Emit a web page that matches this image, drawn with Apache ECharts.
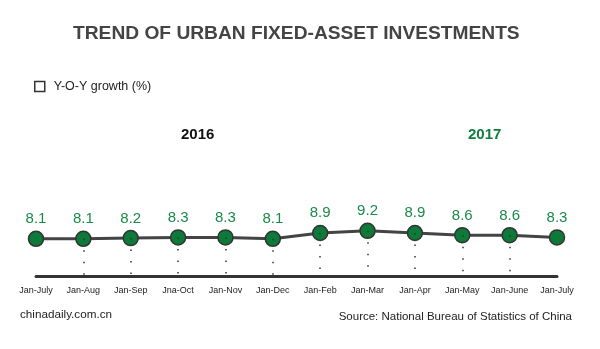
<!DOCTYPE html>
<html><head><meta charset="utf-8">
<script src="https://cdn.jsdelivr.net/npm/echarts@6/dist/echarts.min.js"></script>
<style>html,body{margin:0;padding:0;background:#fff}#c{width:600px;height:349px}</style>
</head><body><div id="c"></div>
<script>
var categories = ['Jan-July','Jan-Aug','Jan-Sep','Jna-Oct','Jan-Nov','Jan-Dec','Jan-Feb','Jan-Mar','Jan-Apr','Jan-May','Jan-June','Jan-July'];
var growth = [8.1, 8.1, 8.2, 8.3, 8.3, 8.1, 8.9, 9.2, 8.9, 8.6, 8.6, 8.3];
var dropIdx = [1,2,3,4,5,6,7,8,9,10];
var yMin = 3, yMax = 10;

var chart = echarts.init(document.getElementById('c'));
var ff = 'Liberation Sans, Arial, sans-serif';
var drops = dropIdx.map(function(i){
  return [{coord:[i, growth[i]]},{coord:[i, yMin]}];
});
chart.setOption({
  animation:false,
  textStyle:{fontFamily:ff},
  title:[
    {text:'TREND OF URBAN FIXED-ASSET INVESTMENTS', left:68, top:19,
     textStyle:{fontSize:19.2, fontWeight:'bold', color:'#444', fontFamily:ff}},
    {text:'2016', left:176, top:122, textStyle:{fontSize:15, fontWeight:'bold', color:'#111', fontFamily:ff}},
    {text:'2017', left:463, top:122, textStyle:{fontSize:15, fontWeight:'bold', color:'#0e7d3e', fontFamily:ff}},
    {text:'chinadaily.com.cn', left:15, top:304, textStyle:{fontSize:11.7, fontWeight:'normal', color:'#222', fontFamily:ff}},
    {text:'Source: National Bureau of Statistics of China', right:23, top:306, textStyle:{fontSize:11.5, fontWeight:'normal', color:'#222', fontFamily:ff}}
  ],
  legend:{left:29, top:75, icon:'rect', itemWidth:10, itemHeight:10, itemGap:8,
    itemStyle:{color:'#fff', borderColor:'#333', borderWidth:1.5},
    textStyle:{fontSize:12.5, color:'#222', fontFamily:ff, padding:[0,0,0,4]},
    data:['Y-O-Y growth (%)']},
  grid:{left:36, right:43, top:225, bottom:73},
  xAxis:{type:'category', data:categories, boundaryGap:false,
    axisLine:{lineStyle:{color:'#333', width:3}},
    axisTick:{show:false},
    axisLabel:{fontSize:9, color:'#222', margin:10, interval:0}},
  yAxis:{type:'value', min:yMin, max:yMax, show:false, splitLine:{show:false}},
  series:[{
    name:'Y-O-Y growth (%)', type:'line', data:growth,
    symbol:'circle', symbolSize:15,
    lineStyle:{color:'#444', width:3},
    itemStyle:{color:'#0d7a3a', borderColor:'#333', borderWidth:1.5},
    label:{show:true, position:'top', distance:4, fontSize:15, color:'#1a8a4a', fontFamily:ff,
      formatter:function(p){return p.value.toFixed(1);}},
    markLine:{silent:true, symbol:['none','none'], label:{show:false},
      lineStyle:{color:'#333', type:[1.5,10], width:1.5},
      data:drops},
    z:3
  }]
});
</script></body></html>
